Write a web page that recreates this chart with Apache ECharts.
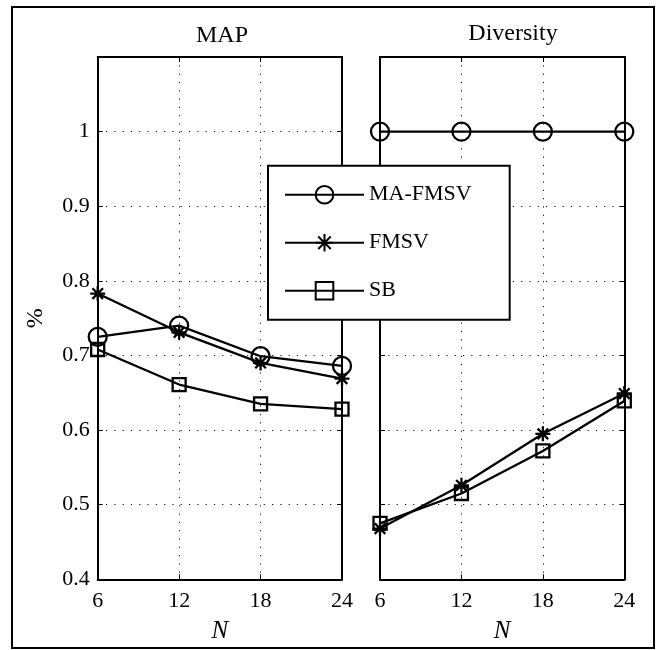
<!DOCTYPE html>
<html>
<head>
<meta charset="utf-8">
<script src="https://cdn.jsdelivr.net/npm/echarts@6/dist/echarts.min.js"></script>
<style>html,body{margin:0;padding:0;background:#fff;}#c{width:660px;height:650px;}</style>
</head>
<body>
<div id="c"></div>
<script>
var N = [6, 12, 18, 24];
var mapMAFMSV = [0.725, 0.740, 0.699, 0.686];
var mapFMSV = [0.783, 0.731, 0.690, 0.669];
var mapSB = [0.708, 0.661, 0.635, 0.628];
var divMAFMSV = [1.0, 1.0, 1.0, 1.0];
var divFMSV = [0.468, 0.526, 0.595, 0.649];
var divSB = [0.475, 0.515, 0.572, 0.639];
var seriesNames = ['MA-FMSV', 'FMSV', 'SB'];
var panelTitles = ['MAP', 'Diversity'];

var FONT = 'Liberation Serif';
var STAR = 'path://M0,-10L0,10M-10,0L10,0M-7.07,-7.07L7.07,7.07M-7.07,7.07L7.07,-7.07';

function pts(arr) { return N.map(function (n, i) { return [n, arr[i]]; }); }

var grids = [
  { left: 97.7, top: 57, width: 244.3, height: 522.3 },
  { left: 380, top: 57, width: 244.3, height: 522.3 }
];

function xAx(gi, pos, main) {
  return {
    type: 'value', gridIndex: gi, position: pos, min: 6, max: 24, interval: 6,
    name: main ? 'N' : '', nameLocation: 'middle', nameGap: 40,
    nameTextStyle: { fontFamily: FONT, fontStyle: 'italic', fontSize: 25, color: '#000' },
    axisLine: { show: true, onZero: false, lineStyle: { color: '#000', width: 2 } },
    axisTick: { show: true, inside: true, length: 5, lineStyle: { color: '#000', width: 1 } },
    axisLabel: { show: main, margin: 11, fontFamily: FONT, fontSize: 22, color: '#000' },
    splitLine: { show: main, lineStyle: { color: '#111', width: 1, type: [1.2, 7.1] } }
  };
}
function yAx(gi, pos, main, labels) {
  return {
    type: 'value', gridIndex: gi, position: pos, min: 0.4, max: 1.1, interval: 0.1,
    name: labels ? '%' : '', nameLocation: 'middle', nameGap: 50,
    nameTextStyle: { fontFamily: FONT, fontSize: 24, color: '#000' },
    axisLine: { show: true, onZero: false, lineStyle: { color: '#000', width: 2 } },
    axisTick: { show: true, inside: true, length: 5, lineStyle: { color: '#000', width: 1 } },
    axisLabel: {
      show: labels, margin: 8, fontFamily: FONT, fontSize: 22, color: '#000',
      formatter: function (v) { return v > 1.05 ? '' : String(Math.round(v * 10) / 10); }
    },
    splitLine: { show: main, lineStyle: { color: '#111', width: 1, type: [1.2, 7.1] } }
  };
}

function ser(name, arr, gi, symbol, size) {
  return {
    name: name, type: 'line', xAxisIndex: gi * 2, yAxisIndex: gi * 2,
    data: pts(arr), symbol: symbol, symbolSize: size, showAllSymbol: true, clip: false,
    lineStyle: { color: '#000', width: 2.3 },
    itemStyle: { color: 'transparent', borderColor: '#000', borderWidth: 2.3 },
    emphasis: { disabled: true }, animation: false, z: 3
  };
}

var symbols = ['circle', STAR, 'rect'];
var sizes = [18, 15, 13];
var mapData = [mapMAFMSV, mapFMSV, mapSB];
var divData = [divMAFMSV, divFMSV, divSB];
var series = [];
for (var i = 0; i < 3; i++) series.push(ser(seriesNames[i], mapData[i], 0, symbols[i], sizes[i]));
for (var j = 0; j < 3; j++) series.push(ser(seriesNames[j], divData[j], 1, symbols[j], sizes[j]));

var option = {
  animation: false,
  backgroundColor: '#fff',
  grid: grids,
  xAxis: [xAx(0, 'bottom', true), xAx(0, 'top', false), xAx(1, 'bottom', true), xAx(1, 'top', false)],
  yAxis: [yAx(0, 'left', true, true), yAx(0, 'right', false, false), yAx(1, 'left', true, false), yAx(1, 'right', false, false)],
  legend: {
    data: seriesNames, orient: 'vertical', left: 268, top: 165.7,
    itemWidth: 79, itemHeight: 22, itemGap: 26,
    padding: [18, 38, 18, 16],
    backgroundColor: '#fff', borderColor: '#000', borderWidth: 2,
    selectedMode: false,
    textStyle: { fontFamily: FONT, fontSize: 22, color: '#000' },
    z: 10
  },
  graphic: [
    { type: 'rect', shape: { x: 12, y: 7, width: 642, height: 641 }, style: { fill: 'none', stroke: '#000', lineWidth: 2 }, silent: true, z: 0 },
    { type: 'text', x: 222, y: 36, style: { text: panelTitles[0], fontFamily: FONT, fontSize: 24, fill: '#000', textAlign: 'center', textVerticalAlign: 'middle' }, silent: true },
    { type: 'text', x: 513, y: 34, style: { text: panelTitles[1], fontFamily: FONT, fontSize: 24, fill: '#000', textAlign: 'center', textVerticalAlign: 'middle' }, silent: true }
  ],
  series: series
};
var chart = echarts.init(document.getElementById('c'), null, { renderer: 'canvas' });
chart.setOption(option);
</script>
</body>
</html>
